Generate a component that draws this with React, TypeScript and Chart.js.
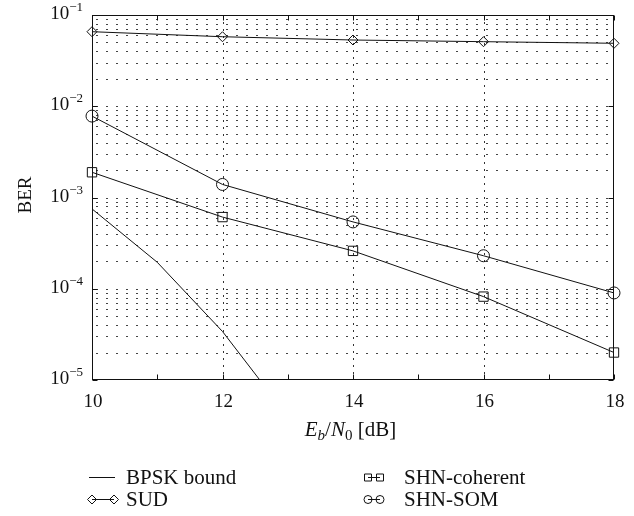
import React, { useEffect, useRef } from 'react';
import { Chart, registerables } from 'chart.js';

Chart.register(...registerables);

// ---- Data ----
const ebn0 = [10, 12, 14, 16, 18];
const bpskX = [10, 11, 12, 13];
const bpskBER = [7.5e-4, 1.95e-4, 3.4e-5, 4.0e-6];
const sudBER = [0.0656, 0.0578, 0.0532, 0.051, 0.049];
const shnCoherentBER = [1.89e-3, 6.1e-4, 2.6e-4, 8.2e-5, 2.0e-5];
const shnSomBER = [7.8e-3, 1.39e-3, 5.4e-4, 2.3e-4, 9.0e-5];

const xTicks = [10, 12, 14, 16, 18];
const xMinorTicks = [11, 13, 15, 17];
const yDecades = [-5, -4, -3, -2, -1];
const yMinorMultipliers = [2, 3, 4, 5, 6, 7, 8, 9];
const seriesLabels = ['BPSK bound', 'SUD', 'SHN-coherent', 'SHN-SOM'];
const yTitle = 'BER';

const FONT = '"Liberation Serif", "Times New Roman", serif';
const INK = '#111';

function pts(xs: number[], ys: number[]) {
  return xs.map((x, i) => ({ x, y: ys[i] }));
}

function drawMarker(ctx: CanvasRenderingContext2D, kind: string, x: number, y: number, r: number) {
  ctx.beginPath();
  if (kind === 'diamond') {
    ctx.moveTo(x, y - r);
    ctx.lineTo(x + r, y);
    ctx.lineTo(x, y + r);
    ctx.lineTo(x - r, y);
    ctx.closePath();
  } else if (kind === 'square') {
    ctx.rect(x - r, y - r, 2 * r, 2 * r);
  } else if (kind === 'circle') {
    ctx.arc(x, y, r, 0, Math.PI * 2);
  }
  ctx.stroke();
}

const decorPlugin = {
  id: 'decor',
  beforeDatasetsDraw(chart: any) {
    const { ctx, chartArea: a, scales } = chart;
    const xs = scales.x;
    const ys = scales.y;
    ctx.save();
    ctx.lineWidth = 1;
    // horizontal log grid
    ctx.strokeStyle = '#444';
    ctx.setLineDash([2, 8]);
    for (const d of yDecades) {
      const vals = d < -1 ? [1, ...yMinorMultipliers] : [1];
      for (const m of vals) {
        const py = Math.round(ys.getPixelForValue(m * Math.pow(10, d))) + 0.5;
        if (py <= a.top + 1 || py >= a.bottom - 1) continue;
        ctx.beginPath();
        ctx.moveTo(a.left + 4, py);
        ctx.lineTo(a.right, py);
        ctx.stroke();
      }
    }
    // vertical grid
    ctx.strokeStyle = '#333';
    ctx.setLineDash([2, 5]);
    for (const t of xTicks) {
      const px = Math.round(xs.getPixelForValue(t)) + 0.5;
      if (px <= a.left + 1 || px >= a.right - 1) continue;
      ctx.beginPath();
      ctx.moveTo(px, a.top);
      ctx.lineTo(px, a.bottom);
      ctx.stroke();
    }
    ctx.restore();
  },
  afterDatasetsDraw(chart: any) {
    const { ctx, chartArea: a, scales } = chart;
    const xs = scales.x;
    const ys = scales.y;
    ctx.save();
    ctx.setLineDash([]);
    ctx.strokeStyle = INK;
    ctx.lineWidth = 1;
    const L = Math.round(a.left) + 0.5;
    const R = Math.round(a.right) - 0.5;
    const T = Math.round(a.top) + 0.5;
    const B = Math.round(a.bottom) - 0.5;
    ctx.strokeRect(L, T, R - L, B - T);
    // x ticks (top and bottom, inside)
    for (const t of [...xTicks, ...xMinorTicks]) {
      const px = Math.round(xs.getPixelForValue(t)) + 0.5;
      ctx.beginPath();
      ctx.moveTo(px, B);
      ctx.lineTo(px, B - 5);
      ctx.moveTo(px, T);
      ctx.lineTo(px, T + 5);
      ctx.stroke();
    }
    // y ticks at decades
    for (const d of yDecades) {
      const py = Math.round(ys.getPixelForValue(Math.pow(10, d))) + 0.5;
      ctx.beginPath();
      ctx.moveTo(L, py);
      ctx.lineTo(L + 5, py);
      ctx.moveTo(R, py);
      ctx.lineTo(R - 5, py);
      ctx.stroke();
    }

    ctx.fillStyle = INK;
    // x tick labels
    ctx.font = `19px ${FONT}`;
    ctx.textAlign = 'center';
    ctx.textBaseline = 'alphabetic';
    for (const t of xTicks) {
      const px = xs.getPixelForValue(t);
      ctx.fillText(String(t), px + 1, a.bottom + 27);
    }
    // y tick labels 10^d
    for (const d of yDecades) {
      const py = ys.getPixelForValue(Math.pow(10, d));
      const exp = '\u2212' + String(-d);
      ctx.font = `13px ${FONT}`;
      const we = ctx.measureText(exp).width;
      ctx.font = `19px ${FONT}`;
      const wb = ctx.measureText('10').width;
      const right = a.left - 9;
      ctx.textAlign = 'left';
      ctx.fillText('10', right - we - wb, py + 4);
      ctx.font = `13px ${FONT}`;
      ctx.fillText(exp, right - we, py - 4);
    }
    // y title
    ctx.save();
    ctx.translate(31, 195);
    ctx.rotate(-Math.PI / 2);
    ctx.font = `19px ${FONT}`;
    ctx.textAlign = 'center';
    ctx.fillText(yTitle, 0, 0);
    ctx.restore();

    // x title: E_b/N_0 [dB]
    const parts = [
      { t: 'E', f: `italic 21px ${FONT}`, dy: 0 },
      { t: 'b', f: `italic 15px ${FONT}`, dy: 4 },
      { t: '/', f: `21px ${FONT}`, dy: 0 },
      { t: 'N', f: `italic 21px ${FONT}`, dy: 0 },
      { t: '0', f: `15px ${FONT}`, dy: 4 },
      { t: ' [dB]', f: `21px ${FONT}`, dy: 0 },
    ];
    ctx.textAlign = 'left';
    let total = 0;
    for (const p of parts) {
      ctx.font = p.f;
      total += ctx.measureText(p.t).width;
    }
    let cx = 350.5 - total / 2;
    const base = a.bottom + 56;
    for (const p of parts) {
      ctx.font = p.f;
      ctx.fillText(p.t, cx, base + p.dy);
      cx += ctx.measureText(p.t).width;
    }

    // legend
    ctx.font = `21px ${FONT}`;
    ctx.strokeStyle = INK;
    ctx.lineWidth = 1;
    const row1 = 477.5;
    const row2 = 499.5;
    // BPSK bound
    ctx.beginPath();
    ctx.moveTo(89, row1);
    ctx.lineTo(115, row1);
    ctx.stroke();
    ctx.fillText(seriesLabels[0], 126, row1 + 6.5);
    // SUD
    ctx.beginPath();
    ctx.moveTo(92, row2);
    ctx.lineTo(114, row2);
    ctx.stroke();
    drawMarker(ctx, 'diamond', 92, row2, 4.5);
    drawMarker(ctx, 'diamond', 114, row2, 4.5);
    ctx.fillText(seriesLabels[1], 126, row2 + 6.5);
    // SHN-coherent
    ctx.beginPath();
    ctx.moveTo(368, row1);
    ctx.lineTo(380, row1);
    ctx.stroke();
    drawMarker(ctx, 'square', 368, row1, 3.5);
    drawMarker(ctx, 'square', 380, row1, 3.5);
    ctx.fillText(seriesLabels[2], 404, row1 + 6.5);
    // SHN-SOM
    ctx.beginPath();
    ctx.moveTo(368, row2);
    ctx.lineTo(380, row2);
    ctx.stroke();
    drawMarker(ctx, 'circle', 368, row2, 4);
    drawMarker(ctx, 'circle', 380, row2, 4);
    ctx.fillText(seriesLabels[3], 404, row2 + 6.5);

    ctx.restore();
  },
};

export default function App() {
  const ref = useRef<HTMLCanvasElement | null>(null);

  useEffect(() => {
    document.body.style.margin = '0';
    document.body.style.overflow = 'hidden';
    const canvas = ref.current;
    if (!canvas) return;
    const common = {
      borderColor: INK,
      borderWidth: 1,
      backgroundColor: 'rgba(0,0,0,0)',
      pointBackgroundColor: 'rgba(0,0,0,0)',
      pointBorderColor: INK,
      pointBorderWidth: 1,
      tension: 0,
    };
    const chart = new Chart(canvas, {
      type: 'line',
      data: {
        datasets: [
          {
            ...common,
            label: seriesLabels[0],
            data: pts(bpskX, bpskBER),
            pointRadius: 0,
          },
          {
            ...common,
            label: seriesLabels[1],
            data: pts(ebn0, sudBER),
            pointStyle: 'rectRot',
            pointRadius: 5,
            clip: false,
          },
          {
            ...common,
            label: seriesLabels[2],
            data: pts(ebn0, shnCoherentBER),
            pointStyle: 'rect',
            pointRadius: 6.6,
            clip: false,
          },
          {
            ...common,
            label: seriesLabels[3],
            data: pts(ebn0, shnSomBER),
            pointStyle: 'circle',
            pointRadius: 6,
            clip: false,
          },
        ] as any,
      },
      options: {
        animation: false,
        responsive: false,
        maintainAspectRatio: false,
        layout: { padding: { left: 92, right: 20, top: 15, bottom: 136 } },
        plugins: {
          legend: { display: false },
          tooltip: { enabled: false },
        },
        scales: {
          x: {
            type: 'linear',
            min: 10,
            max: 18,
            grid: { display: false },
            border: { display: false },
            ticks: { display: false },
            afterFit: (s: any) => {
              s.height = 0;
            },
          },
          y: {
            type: 'logarithmic',
            min: 1e-5,
            max: 1e-1,
            grid: { display: false },
            border: { display: false },
            ticks: { display: false },
            afterFit: (s: any) => {
              s.width = 0;
            },
          },
        },
      } as any,
      plugins: [decorPlugin],
    });
    return () => chart.destroy();
  }, []);

  return (
    <div style={{ width: 634, height: 516, background: '#fff' }}>
      <canvas ref={ref} width={634} height={516} style={{ display: 'block', width: 634, height: 516 }} />
    </div>
  );
}
